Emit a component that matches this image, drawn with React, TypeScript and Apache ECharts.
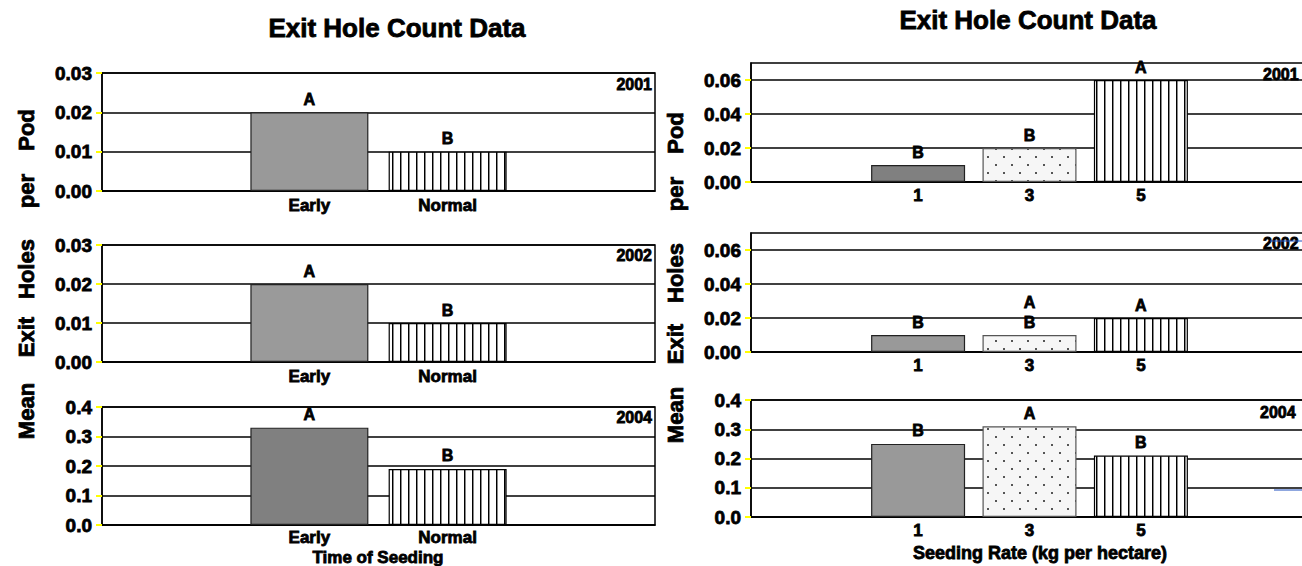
import React, { useEffect, useRef } from 'react';
import * as echarts from 'echarts';

// ---------- data ----------
const chartTitle = 'Exit Hole Count Data';
const yNameWords = ['Mean', 'Exit', 'Holes', 'per', 'Pod'];
const leftXTitle = 'Time of Seeding';
const rightXTitle = 'Seeding Rate (kg per hectare)';

const timeCategories = ['Early', 'Normal'];
const rateCategories = ['1', '3', '5'];
const yearLabels = ['2001', '2002', '2004'];

const timeValues2001 = [0.02, 0.01];
const timeValues2002 = [0.02, 0.01];
const timeValues2004 = [0.33, 0.19];
const rateValues2001 = [0.01, 0.02, 0.06];
const rateValues2002 = [0.01, 0.01, 0.02];
const rateValues2004 = [0.25, 0.31, 0.21];

const timeLetters2001 = ['A', 'B'];
const timeLetters2002 = ['A', 'B'];
const timeLetters2004 = ['A', 'B'];
const rateLetters2001 = ['B', 'B', 'A'];
const rateLetters2002 = ['B', 'A\nB', 'A'];
const rateLetters2004 = ['B', 'A', 'B'];

const leftSmallTicks = [0, 0.01, 0.02, 0.03];
const rightSmallTicks = [0, 0.02, 0.04, 0.06];
const meanTicks = [0, 0.1, 0.2, 0.3, 0.4];
const leftSmallMax = 0.03;
const rightSmallMax = 0.07;
const meanMax = 0.4;

// ---------- styling helpers ----------
const FONT = '"Liberation Sans", Arial, sans-serif';
const HEAVY = 0.8;

function makeStripe() {
  const c = document.createElement('canvas');
  c.width = 8;
  c.height = 8;
  const ctx = c.getContext('2d')!;
  ctx.fillStyle = '#ffffff';
  ctx.fillRect(0, 0, 8, 8);
  ctx.fillStyle = '#000000';
  ctx.fillRect(0, 0, 1, 8);
  ctx.fillStyle = '#888888';
  ctx.fillRect(1, 0, 1, 8);
  return { image: c.toDataURL(), repeat: 'repeat', imageWidth: 8, imageHeight: 8 };
}

function makeDots() {
  const c = document.createElement('canvas');
  c.width = 16;
  c.height = 16;
  const ctx = c.getContext('2d')!;
  ctx.fillStyle = '#f6f6f6';
  ctx.fillRect(0, 0, 16, 16);
  ctx.fillStyle = '#555555';
  ctx.fillRect(3, 4, 2, 2);
  ctx.fillRect(11, 12, 2, 2);
  return { image: c.toDataURL(), repeat: 'repeat', imageWidth: 16, imageHeight: 16 };
}

export default function App() {
  const ref = useRef<HTMLDivElement>(null);

  useEffect(() => {
    if (!ref.current) return;
    const chart = echarts.init(ref.current, null, { renderer: 'svg' });
    const stripe = makeStripe();
    const dots = makeDots();

    const solid = (c: string) => ({ color: c, borderColor: '#222', borderWidth: 1.2 });
    const striped = { color: stripe, borderColor: '#000', borderWidth: 1.2 };
    const dotted = { color: dots, borderColor: '#555', borderWidth: 1.2 };

    const panels = [
      { grid: { left: 102, top: 73, width: 553, height: 118 }, cats: timeCategories, vals: timeValues2001, letters: timeLetters2001, styles: [solid('#999999'), striped], ticks: leftSmallTicks, max: leftSmallMax, dec: 2, barWidth: 118, xMargin: 6 },
      { grid: { left: 102, top: 245, width: 553, height: 117 }, cats: timeCategories, vals: timeValues2002, letters: timeLetters2002, styles: [solid('#9a9a9a'), striped], ticks: leftSmallTicks, max: leftSmallMax, dec: 2, barWidth: 118, xMargin: 6 },
      { grid: { left: 102, top: 407, width: 553, height: 118 }, cats: timeCategories, vals: timeValues2004, letters: timeLetters2004, styles: [solid('#808080'), striped], ticks: meanTicks, max: meanMax, dec: 1, barWidth: 118, xMargin: 4 },
      { grid: { left: 751, top: 63, width: 557, height: 119 }, cats: rateCategories, vals: rateValues2001, letters: rateLetters2001, styles: [solid('#808080'), dotted, striped], ticks: rightSmallTicks, max: rightSmallMax, dec: 2, barWidth: 94, xMargin: 5 },
      { grid: { left: 751, top: 233, width: 557, height: 119 }, cats: rateCategories, vals: rateValues2002, letters: rateLetters2002, styles: [solid('#999999'), dotted, striped], ticks: rightSmallTicks, max: rightSmallMax, dec: 2, barWidth: 94, xMargin: 5 },
      { grid: { left: 751, top: 400, width: 557, height: 117 }, cats: rateCategories, vals: rateValues2004, letters: rateLetters2004, styles: [solid('#999999'), dotted, striped], ticks: meanTicks, max: meanMax, dec: 1, barWidth: 94, xMargin: 5 },
    ];

    const grid = panels.map((p) => ({
      ...p.grid,
      show: true,
      borderColor: '#000',
      borderWidth: 1.5,
      backgroundColor: 'transparent',
      containLabel: false,
      outerBoundsMode: 'none',
    }));

    const xAxis = panels.map((p, i) => ({
      type: 'category',
      gridIndex: i,
      data: ['', ...p.cats, ''],
      axisTick: { show: false },
      axisLine: { show: true, lineStyle: { color: '#000', width: 1.5 } },
      axisLabel: {
        color: '#000', fontWeight: 'bold', fontSize: 17, fontFamily: FONT, margin: p.xMargin, interval: 0,
        textBorderColor: '#000', textBorderWidth: HEAVY,
      },
      splitLine: { show: false },
    }));

    const yAxis = panels.map((p, i) => ({
      type: 'value',
      gridIndex: i,
      min: 0,
      max: p.max,
      axisLine: { show: true, lineStyle: { color: '#000', width: 1.5 } },
      axisTick: { show: true, inside: false, length: 6, customValues: p.ticks, lineStyle: { color: '#ffff00', width: 2 } },
      axisLabel: {
        customValues: p.ticks,
        color: '#000',
        fontWeight: 'bold',
        fontSize: 19,
        fontFamily: FONT,
        margin: 10,
        textBorderColor: '#000',
        textBorderWidth: HEAVY,
        formatter: (v: number) => v.toFixed(p.dec),
      },
      splitLine: { show: true, lineStyle: { color: '#000', width: 1.5 } },
    }));

    const series = panels.map((p, i) => ({
      type: 'bar',
      xAxisIndex: i,
      yAxisIndex: i,
      barWidth: p.barWidth,
      data: ['-', ...p.vals.map((v, k) => ({
        value: v,
        itemStyle: p.styles[k],
        label: { formatter: p.letters[k] },
      })), '-'],
      label: {
        show: true,
        position: 'top',
        distance: 3,
        color: '#000',
        fontWeight: 'bold',
        fontSize: 16,
        lineHeight: 20,
        fontFamily: FONT,
        textBorderColor: '#000',
        textBorderWidth: HEAVY,
      },
    }));

    const txt = (text: string, x: number, y: number, size: number, align = 'center', rotation = 0) => ({
      type: 'text',
      x,
      y,
      rotation,
      style: {
        text,
        font: `bold ${size}px ${FONT}`,
        fill: '#000',
        stroke: '#000',
        lineWidth: HEAVY,
        align,
        verticalAlign: 'middle',
      },
    });

    const leftWordY = [411, 337, 269, 191, 130];
    const rightWordY = [415, 344, 273, 194, 133];

    const graphic: any[] = [
      txt(chartTitle, 397, 28, 26),
      txt(chartTitle, 1028, 20, 26),
      txt(leftXTitle, 378, 557, 17),
      txt(rightXTitle, 1040, 553, 18),
      ...yNameWords.map((w, k) => txt(w, 26, leftWordY[k], 22, 'center', Math.PI / 2)),
      ...yNameWords.map((w, k) => txt(w, 675, rightWordY[k], 22, 'center', Math.PI / 2)),
      txt(yearLabels[0], 652, 84, 16, 'right'),
      txt(yearLabels[1], 652, 255, 16, 'right'),
      txt(yearLabels[2], 652, 417, 16, 'right'),
      txt(yearLabels[0], 1263, 74, 16, 'left'),
      txt(yearLabels[1], 1263, 243, 16, 'left'),
      txt(yearLabels[2], 1260, 412, 16, 'left'),
      { type: 'line', shape: { x1: 1270, y1: 241, x2: 1302, y2: 241 }, style: { stroke: '#2050c0', lineWidth: 1 } },
      { type: 'line', shape: { x1: 1274, y1: 490, x2: 1302, y2: 490 }, style: { stroke: '#2050c0', lineWidth: 1 } },
    ];

    chart.setOption({
      animation: false,
      backgroundColor: '#fff',
      grid,
      xAxis,
      yAxis,
      series,
      graphic,
    } as any);

    return () => chart.dispose();
  }, []);

  return (
    <div
      ref={ref}
      style={{ position: 'absolute', left: 0, top: 0, width: 1302, height: 566 }}
    />
  );
}
